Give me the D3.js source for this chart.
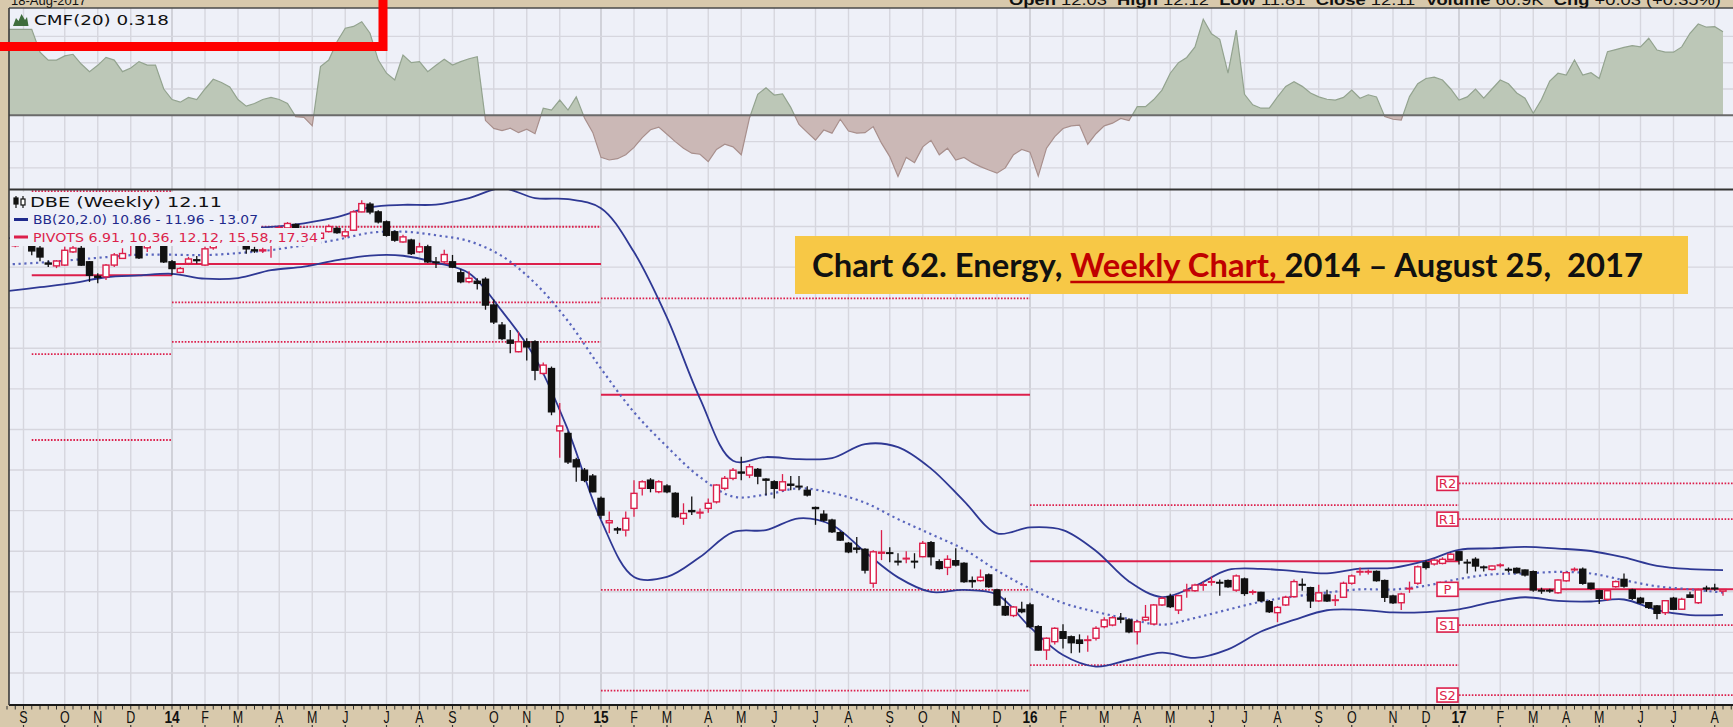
<!DOCTYPE html>
<html>
<head>
<meta charset="utf-8">
<script src="https://cdn.jsdelivr.net/npm/d3@7/dist/d3.min.js"></script>
<style>
  html, body { margin: 0; padding: 0; background: #d8c9ac; overflow: hidden; }
  svg { display: block; }
</style>
</head>
<body>
<svg id="chart" width="1733" height="727"></svg>
<script>
// ---------- DBE weekly bars (each week dated by its Monday) ----------
const firstBarDate = "2013-08-26";
const opens = [
  29.05, 29.3, 29.3, 28.93, 28.2, 28.06, 28.1, 28.75, 28.92, 28.26,
  27.55, 27.52, 28.1, 28.43, 29.1, 29.2, 28.95, 29.3, 29.1, 28.26,
  27.74, 28.18, 28.36, 28.1, 28.95, 29.45, 29.65, 29.5, 29.6, 28.85,
  28.8, 29.3, 29.9, 29.93, 30.1, 29.9, 29.6, 29.42, 29.75, 29.9,
  29.54, 29.82, 30.72, 31.1, 30.72, 30.23, 29.74, 29.24, 29.33, 28.75,
  29.0, 28.25, 28.26, 28.26, 27.72, 27.28, 27.3, 27.4, 26.13, 25.14,
  24.4, 23.83, 24.32, 24.32, 22.76, 23.0, 19.93, 19.8, 18.5, 17.99,
  17.7, 16.6, 15.4, 15.1, 15.04, 16.11, 17.1, 17.5, 16.93, 17.21,
  16.85, 15.62, 16.0, 15.88, 16.11, 16.43, 17.1, 17.59, 17.9, 17.75,
  18.03, 17.55, 17.42, 17.01, 17.3, 17.2, 17.0, 16.15, 15.82, 15.53,
  14.91, 14.39, 14.15, 14.09, 12.42, 13.9, 13.92, 13.5, 13.62, 13.5,
  13.73, 14.42, 13.48, 13.2, 13.53, 13.4, 12.55, 12.55, 12.83, 12.09,
  11.27, 10.83, 11.13, 11.35, 10.28, 9.13, 9.54, 10.03, 9.78, 9.62,
  9.6, 9.71, 10.28, 10.36, 10.7, 10.61, 10.03, 10.61, 10.41, 11.35,
  11.76, 11.1, 12.05, 12.05, 12.33, 12.48, 12.46, 12.55, 12.08, 12.63,
  11.98, 11.97, 11.51, 10.97, 11.35, 11.76, 12.36, 12.2, 11.55, 11.84,
  11.57, 11.73, 12.42, 12.98, 12.98, 13.0, 12.55, 11.79, 11.46, 12.15,
  12.42, 13.43, 13.37, 13.4, 13.6, 13.97, 13.45, 13.6, 13.22, 13.1,
  13.3, 13.1, 13.15, 13.07, 12.99, 12.07, 12.07, 11.95, 12.54, 13.1,
  13.11, 12.42, 12.05, 11.63, 12.25, 12.61, 12.09, 11.68, 11.46, 11.3,
  10.97, 11.68, 11.14, 11.84, 11.46, 12.18, 12.18, 12.03
];
const highs = [
  29.45, 29.6, 29.5, 29.2, 28.34, 28.35, 29.0, 29.1, 29.05, 28.3,
  27.7, 28.15, 28.7, 28.93, 29.55, 29.4, 29.4, 29.7, 29.3, 28.35,
  28.0, 28.5, 28.55, 29.0, 29.55, 29.8, 29.85, 29.9, 29.7, 29.0,
  28.95, 29.7, 30.05, 30.22, 30.15, 29.95, 29.7, 29.75, 30.1, 30.0,
  29.9, 30.8, 31.3, 31.2, 30.8, 30.3, 29.8, 29.6, 29.4, 29.2,
  29.1, 28.5, 28.85, 28.6, 27.9, 27.8, 27.45, 27.5, 26.4, 25.3,
  24.9, 24.81, 24.5, 24.4, 23.3, 23.1, 21.3, 19.9, 18.6, 18.1,
  17.8, 16.7, 15.96, 15.2, 15.96, 17.5, 17.5, 17.6, 17.5, 17.3,
  16.9, 16.36, 16.69, 16.1, 16.6, 17.3, 17.7, 18.1, 18.65, 18.3,
  18.1, 17.6, 17.5, 17.8, 17.7, 17.7, 17.2, 16.2, 16.02, 15.6,
  15.0, 14.45, 14.7, 14.15, 14.05, 15.04, 14.2, 13.9, 14.0, 13.9,
  14.5, 14.5, 13.6, 13.8, 14.14, 13.45, 12.75, 13.1, 12.9, 12.15,
  11.7, 11.3, 11.51, 11.46, 10.35, 9.75, 10.25, 10.4, 9.85, 9.9,
  9.85, 10.3, 10.75, 10.8, 10.95, 10.7, 10.6, 11.35, 11.4, 11.75,
  11.9, 11.85, 12.4, 12.4, 12.5, 12.75, 12.6, 12.6, 12.85, 12.7,
  12.1, 12.0, 11.6, 11.3, 11.8, 12.6, 12.65, 12.25, 12.35, 12.1,
  11.85, 12.5, 12.85, 13.2, 13.1, 13.05, 12.6, 11.85, 11.95, 12.5,
  13.3, 13.55, 13.6, 13.7, 13.9, 14.0, 13.6, 13.7, 13.3, 13.3,
  13.4, 13.2, 13.2, 13.1, 13.05, 12.2, 12.15, 12.6, 13.0, 13.2,
  13.2, 12.45, 12.1, 12.1, 12.55, 12.9, 12.15, 11.75, 11.5, 11.35,
  11.6, 11.75, 11.7, 12.0, 12.15, 12.3, 12.4, 12.12
];
const lows = [
  28.98, 29.1, 28.59, 28.29, 28.0, 27.95, 28.05, 28.7, 28.05, 27.27,
  27.2, 27.36, 28.0, 28.4, 28.56, 28.4, 28.75, 29.1, 28.2, 27.6,
  27.7, 28.1, 28.18, 28.05, 28.85, 29.3, 29.25, 29.3, 28.66, 28.7,
  28.7, 28.46, 29.8, 29.85, 29.9, 29.45, 29.35, 29.35, 29.7, 29.65,
  29.45, 29.8, 30.7, 30.6, 30.15, 29.5, 29.25, 29.2, 28.6, 28.7,
  28.2, 27.95, 28.2, 27.95, 27.2, 27.2, 26.9, 25.9, 25.2, 24.4,
  23.75, 23.8, 23.4, 22.43, 22.7, 20.7, 18.6, 18.3, 17.42, 17.4,
  16.9, 15.6, 14.88, 14.85, 14.72, 15.7, 16.75, 16.9, 16.85, 16.85,
  15.65, 15.3, 15.78, 15.6, 15.9, 16.35, 17.0, 17.5, 17.5, 17.6,
  17.3, 16.76, 16.6, 16.95, 17.0, 17.0, 16.7, 15.3, 15.45, 14.9,
  14.5, 13.9, 13.9, 12.9, 12.2, 13.56, 13.45, 13.3, 13.4, 13.15,
  13.7, 13.3, 13.1, 12.82, 13.25, 12.45, 12.2, 12.5, 12.2, 11.3,
  10.8, 10.75, 10.94, 10.2, 9.1, 8.64, 9.4, 9.2, 8.97, 9.0,
  9.05, 9.6, 10.2, 10.3, 10.45, 9.95, 9.4, 10.55, 10.35, 11.3,
  11.2, 10.9, 11.7, 12.0, 12.05, 12.3, 11.8, 12.2, 12.0, 11.8,
  11.85, 11.5, 10.95, 10.5, 11.3, 11.7, 12.05, 11.2, 11.5, 11.5,
  11.3, 11.7, 12.35, 12.8, 12.85, 12.5, 11.5, 11.4, 11.1, 11.95,
  12.35, 13.1, 13.3, 13.35, 13.55, 13.35, 12.9, 13.0, 13.0, 13.05,
  13.2, 12.95, 12.9, 12.75, 12.0, 11.9, 11.95, 11.9, 12.5, 13.0,
  12.35, 12.1, 11.4, 11.55, 12.2, 12.2, 11.6, 11.4, 11.15, 10.65,
  10.85, 11.1, 11.1, 11.7, 11.4, 12.0, 12.05, 11.81
];
const closes = [
  29.3, 29.45, 28.8, 28.5, 28.15, 28.3, 28.83, 28.94, 28.1, 27.6,
  27.5, 28.1, 28.6, 28.67, 29.4, 28.46, 29.3, 29.5, 28.26, 27.93,
  27.93, 28.4, 28.32, 28.9, 29.45, 29.65, 29.5, 29.7, 28.9, 28.8,
  28.85, 29.6, 29.95, 30.15, 29.93, 29.6, 29.5, 29.67, 30.0, 29.7,
  29.74, 30.72, 31.13, 30.72, 30.23, 29.57, 29.33, 29.49, 28.67, 29.0,
  28.26, 28.22, 28.62, 28.0, 27.28, 27.45, 27.2, 26.13, 25.3, 24.48,
  24.25, 24.32, 24.07, 22.92, 23.17, 20.87, 20.17, 18.4, 18.16, 17.5,
  16.93, 15.78, 15.5, 15.05, 15.62, 16.85, 17.42, 17.1, 17.42, 16.93,
  15.7, 15.86, 15.95, 15.92, 16.36, 17.26, 17.59, 17.99, 17.85, 18.16,
  17.7, 17.5, 17.1, 17.42, 17.25, 17.18, 16.77, 16.1, 15.53, 14.96,
  14.55, 13.97, 14.1, 13.07, 13.97, 13.95, 13.9, 13.48, 13.65, 13.48,
  14.39, 13.73, 13.15, 13.6, 13.32, 12.5, 12.5, 12.72, 12.25, 11.35,
  10.86, 11.25, 11.02, 10.28, 9.13, 9.71, 10.2, 9.71, 9.49, 9.46,
  9.63, 10.2, 10.61, 10.72, 10.65, 10.03, 10.52, 10.74, 11.35, 11.68,
  11.27, 11.81, 12.08, 12.33, 12.35, 12.5, 12.44, 12.25, 12.78, 11.92,
  12.0, 11.56, 11.02, 11.23, 11.73, 12.5, 12.33, 11.55, 11.95, 11.55,
  11.6, 12.42, 12.78, 13.0, 13.0, 12.55, 11.73, 11.46, 11.89, 12.17,
  13.23, 13.2, 13.56, 13.6, 13.85, 13.56, 13.43, 13.27, 13.2, 13.27,
  13.32, 13.08, 12.94, 12.83, 12.09, 12.05, 12.05, 12.58, 12.94, 13.11,
  12.42, 12.17, 11.68, 12.05, 12.5, 12.28, 11.68, 11.46, 11.23, 10.94,
  11.56, 11.14, 11.63, 11.73, 12.09, 12.16, 12.15, 12.11
];

// ---------- Chaikin Money Flow (20), one value per week ----------
const cmfFirstDate = "2013-08-19";
const cmfValues = [
  0.327, 0.327, 0.327, 0.327, 0.24, 0.21, 0.21, 0.226, 0.232, 0.195,
  0.166, 0.19, 0.22, 0.21, 0.166, 0.18, 0.204, 0.191, 0.191, 0.10,
  0.06, 0.05, 0.068, 0.06, 0.10, 0.137, 0.125, 0.108, 0.06, 0.035,
  0.045, 0.06, 0.068, 0.06, 0.045, -0.005, -0.008, -0.04, 0.185, 0.21,
  0.28, 0.331, 0.338, 0.356, 0.312, 0.21, 0.16, 0.134, 0.229, 0.2,
  0.204, 0.166, 0.19, 0.213, 0.191, 0.204, 0.215, 0.223, -0.02, -0.05,
  -0.058, -0.049, -0.066, -0.053, -0.07, 0.027, 0.02, 0.058, 0.02, 0.07,
  -0.01, -0.065, -0.16, -0.17, -0.165, -0.15, -0.122, -0.085, -0.055, -0.045,
  -0.072, -0.1, -0.125, -0.144, -0.148, -0.176, -0.13, -0.11, -0.12, -0.15,
  -0.01, 0.08, 0.105, 0.077, 0.081, 0.03, -0.035, -0.065, -0.094, -0.056,
  -0.068, -0.015, -0.06, -0.068, -0.066, -0.043, -0.106, -0.157, -0.233, -0.16,
  -0.18, -0.12, -0.095, -0.15, -0.125, -0.17, -0.16, -0.18, -0.195, -0.208,
  -0.22, -0.2, -0.15, -0.13, -0.14, -0.231, -0.125, -0.081, -0.05, -0.04,
  -0.037, -0.11, -0.07, -0.04, -0.03, -0.012, -0.02, 0.033, 0.033, 0.06,
  0.096, 0.16, 0.2, 0.22, 0.26, 0.365, 0.31, 0.289, 0.16, 0.324,
  0.08, 0.04, 0.027, 0.027, 0.07, 0.11, 0.128, 0.11, 0.085, 0.07,
  0.061, 0.058, 0.068, 0.096, 0.065, 0.078, 0.07, -0.005, -0.015, -0.018,
  0.071, 0.12, 0.14, 0.145, 0.134, 0.1, 0.058, 0.07, 0.1, 0.065,
  0.1, 0.134, 0.12, 0.085, 0.065, 0.008, 0.06, 0.13, 0.16, 0.153,
  0.21, 0.153, 0.162, 0.14, 0.242, 0.25, 0.258, 0.265, 0.26, 0.293,
  0.248, 0.24, 0.24, 0.26, 0.312, 0.347, 0.335, 0.337, 0.318
];

// ---------- Bollinger Bands (20, 2.0), one reading every 4 weeks ----------
const bandFirstDate = "2013-08-19";
const bandStepWeeks = 4;
const bbUpper = [
  29.43, 29.43, 29.48, 29.57, 29.65, 29.72, 29.82, 29.92, 29.98, 30.16,
  30.46, 30.95, 31.07, 31.08, 31.40, 31.89, 31.40, 31.35, 30.90, 28.74,
  25.51, 21.52, 18.46, 18.64, 18.54, 18.59, 19.28, 19.13, 18.07, 16.47,
  14.88, 15.17, 15.04, 14.01, 12.51, 11.74, 12.28, 13.08, 13.13, 13.02,
  12.91, 13.14, 13.18, 13.53, 14.07, 14.14, 14.21, 14.13, 14.01, 13.69,
  13.28, 13.12, 13.07
];
const bbMiddle = [
  28.13, 28.22, 28.35, 28.49, 28.61, 28.61, 28.59, 28.69, 28.84, 29.08,
  29.35, 29.69, 29.75, 29.57, 29.28, 28.54, 27.21, 25.34, 23.00, 20.85,
  19.15, 17.65, 16.69, 16.79, 17.10, 16.87, 16.39, 15.58, 14.84, 14.09,
  13.05, 12.16, 11.45, 11.01, 10.66, 10.38, 10.71, 11.12, 11.51, 11.77,
  11.96, 12.12, 12.11, 12.30, 12.63, 12.86, 12.90, 12.98, 12.90, 12.57,
  12.27, 12.12, 11.96
];
const bbLower = [
  26.82, 27.01, 27.21, 27.50, 27.59, 27.67, 27.43, 27.46, 27.85, 28.02,
  28.34, 28.57, 28.56, 28.22, 27.70, 25.83, 23.54, 19.97, 15.53, 12.73,
  12.73, 13.71, 14.94, 15.04, 15.62, 15.29, 13.96, 12.71, 11.99, 12.09,
  11.86, 10.26, 8.88, 8.31, 8.65, 9.00, 8.74, 9.16, 10.04, 10.61,
  11.09, 11.11, 10.98, 11.00, 11.13, 11.49, 11.73, 11.55, 11.52, 11.62,
  11.10, 10.85, 10.86
];

// ---------- Annual pivot points (null = level not plotted) ----------
const pivotStartDates = ["2013-09-09", "2014-01-06", "2015-01-05", "2016-01-04", "2017-01-02"];
const pivotR2 = [null, null, null, null, 17.34];
const pivotR1 = [31.74, 29.99, 26.46, 16.27, 15.58];
const pivotP  = [27.60, 28.15, 21.71, 13.51, 12.12];
const pivotS1 = [23.71, 26.26, 12.09, 8.39, 10.36];
const pivotS2 = [19.48, 24.32, 7.13, null, 6.91];
const pivotNames = ["R2", "R1", "P", "S1", "S2"];

// ---------- Axis / grid labels ----------
const monthLetters = ["J", "F", "M", "A", "M", "J", "J", "A", "S", "O", "N", "D"];
const priceGridValues = [8, 10, 12, 14, 16, 18, 20, 22, 24, 26, 28, 30];
const cmfGridValues = [-0.2, -0.1, 0.1, 0.2, 0.3];

// ---------- Text ----------
const headerDate = "18-Aug-2017";
const headerQuote = [["Open", "12.03"], ["High", "12.12"], ["Low", "11.81"], ["Close", "12.11"], ["Volume", "60.9K"], ["Chg", "+0.03 (+0.35%)"]];
const legendCMF = "CMF(20) 0.318";
const legendSymbol = "DBE (Weekly) 12.11";
const legendBB = "BB(20,2.0) 10.86 - 11.96 - 13.07";
const legendPivots = "PIVOTS 6.91, 10.36, 12.12, 15.58, 17.34";
const titleParts = ["Chart 62. Energy, ", "Weekly Chart, ", "2014 \u2013 August 25,  2017"];

// ================= drawing =================
const W = 1733, H = 727;
const panelLeft = 9, panelRight = W;
const cmfTop = 8, cmfBottom = 189;
const priceTop = 190, priceBottom = 705;

const BG = "#eef0f8", TAN = "#d8c9ac";
const RED = "#dc1f4b", NAVY = "#2e3894", BLACK = "#111";

const svg = d3.select("#chart");
const parse = d3.utcParse("%Y-%m-%d");
const weekFrom = (s, n) => d3.utcMonday.offset(parse(s), n);

const x = d3.scaleUtc().domain([parse("2014-01-06"), parse("2017-01-02")]).range([172, 1459]);
const y = d3.scaleLinear().domain([6.42, 31.8]).range([priceBottom, priceTop]);
const cy = d3.scaleLinear().domain([-0.2, 0.3]).range([167.9, 36.4]);

const bars = opens.map((o, i) => ({ date: weekFrom(firstBarDate, i), o, h: highs[i], l: lows[i], c: closes[i] }));
const cmf = cmfValues.map((v, i) => ({ date: weekFrom(cmfFirstDate, i), v }));
const band = arr => arr.map((v, i) => ({ date: weekFrom(bandFirstDate, i * bandStepWeeks), v }));

const defs = svg.append("defs");
defs.append("clipPath").attr("id", "clipPrice").append("rect")
  .attr("x", panelLeft).attr("y", priceTop).attr("width", panelRight - panelLeft).attr("height", priceBottom - priceTop);
defs.append("clipPath").attr("id", "clipCmf").append("rect")
  .attr("x", panelLeft).attr("y", cmfTop).attr("width", panelRight - panelLeft).attr("height", cmfBottom - cmfTop);
defs.append("clipPath").attr("id", "clipPos").append("rect")
  .attr("x", panelLeft).attr("y", cmfTop).attr("width", panelRight - panelLeft).attr("height", cy(0) - cmfTop);
defs.append("clipPath").attr("id", "clipNeg").append("rect")
  .attr("x", panelLeft).attr("y", cy(0)).attr("width", panelRight - panelLeft).attr("height", cmfBottom - cy(0));

// background
svg.append("rect").attr("width", W).attr("height", H).attr("fill", TAN);
svg.append("rect").attr("x", panelLeft).attr("y", cmfTop).attr("width", panelRight - panelLeft).attr("height", cmfBottom - cmfTop).attr("fill", BG);
svg.append("rect").attr("x", panelLeft).attr("y", priceTop).attr("width", panelRight - panelLeft).attr("height", priceBottom - priceTop).attr("fill", BG);

// month boundaries (first weekly bar of each month)
const monthBars = bars.filter((b, i) => i > 0 && b.date.getUTCMonth() !== bars[i - 1].date.getUTCMonth());

// vertical grid in both panels
[[cmfTop, cmfBottom], [priceTop, priceBottom]].forEach(([t, b]) => {
  svg.append("g").selectAll("line").data(monthBars).join("line")
    .attr("x1", d => x(d.date)).attr("x2", d => x(d.date))
    .attr("y1", t).attr("y2", b)
    .attr("stroke", d => d.date.getUTCMonth() === 0 ? "#c4c4cc" : "#d6d6de")
    .attr("stroke-width", 1.4);
});
// horizontal grid
svg.append("g").selectAll("line").data(priceGridValues).join("line")
  .attr("x1", panelLeft).attr("x2", panelRight).attr("y1", d => y(d)).attr("y2", d => y(d))
  .attr("stroke", "#d6d6de").attr("stroke-width", 1.4);
svg.append("g").selectAll("line").data(cmfGridValues).join("line")
  .attr("x1", panelLeft).attr("x2", panelRight).attr("y1", d => cy(d)).attr("y2", d => cy(d))
  .attr("stroke", "#d6d6de").attr("stroke-width", 1.4);

// ---------- CMF panel ----------
const gc = svg.append("g").attr("clip-path", "url(#clipCmf)");
const cmfArea = d3.area().x(d => x(d.date)).y0(cy(0)).y1(d => cy(d.v));
const cmfLine = d3.line().x(d => x(d.date)).y(d => cy(d.v));
gc.append("path").datum(cmf).attr("d", cmfArea).attr("fill", "#bcc7b7").attr("clip-path", "url(#clipPos)");
gc.append("path").datum(cmf).attr("d", cmfArea).attr("fill", "#cbb8b6").attr("clip-path", "url(#clipNeg)");
gc.append("path").datum(cmf).attr("d", cmfLine).attr("fill", "none").attr("stroke", "#93a38f").attr("stroke-width", 1.2).attr("clip-path", "url(#clipPos)");
gc.append("path").datum(cmf).attr("d", cmfLine).attr("fill", "none").attr("stroke", "#a88f8c").attr("stroke-width", 1.2).attr("clip-path", "url(#clipNeg)");
gc.append("line").attr("x1", panelLeft).attr("x2", panelRight).attr("y1", cy(0)).attr("y2", cy(0))
  .attr("stroke", "#6a6a6a").attr("stroke-width", 2);

// CMF legend
svg.append("path").attr("d", "M13,26 L16,18 L18.5,21 L21.5,14 L25,20 L27,17 L28.5,26 Z").attr("fill", "#3f6d3c");
svg.append("text").attr("x", 34).attr("y", 25).text(legendCMF)
  .attr("font-family", "DejaVu Sans, sans-serif").attr("font-size", 14).attr("fill", "#111")
  .attr("textLength", 135).attr("lengthAdjust", "spacingAndGlyphs");

// ---------- price panel ----------
const gp = svg.append("g").attr("clip-path", "url(#clipPrice)");

// pivot lines
const pivotRows = [pivotR2, pivotR1, pivotP, pivotS1, pivotS2];
pivotStartDates.forEach((s, k) => {
  const xs = x(parse(s));
  const xe = k < pivotStartDates.length - 1 ? x(parse(pivotStartDates[k + 1])) : panelRight + 20;
  pivotRows.forEach((row, r) => {
    if (row[k] == null) return;
    const isP = pivotNames[r] === "P";
    gp.append("line").attr("x1", xs).attr("x2", xe).attr("y1", y(row[k])).attr("y2", y(row[k]))
      .attr("stroke", RED).attr("stroke-width", isP ? 2 : 1.8)
      .attr("stroke-dasharray", isP ? null : "1.6,1.6");
  });
});

// Bollinger Bands
const bandLine = d3.line().x(d => x(d.date)).y(d => y(d.v)).curve(d3.curveCatmullRom.alpha(0.5));
gp.append("path").datum(band(bbUpper)).attr("d", bandLine).attr("fill", "none").attr("stroke", NAVY).attr("stroke-width", 1.8);
gp.append("path").datum(band(bbLower)).attr("d", bandLine).attr("fill", "none").attr("stroke", NAVY).attr("stroke-width", 1.8);
gp.append("path").datum(band(bbMiddle)).attr("d", bandLine).attr("fill", "none").attr("stroke", "#5a66bd")
  .attr("stroke-width", 2.2).attr("stroke-dasharray", "2.2,3.6");

// candlesticks
const bodyW = 6;
const up = d => d.c >= d.o;
const cg = gp.append("g");
cg.selectAll("line").data(bars).join("line")
  .attr("x1", d => x(d.date)).attr("x2", d => x(d.date))
  .attr("y1", d => y(d.h)).attr("y2", d => y(d.l))
  .attr("stroke", d => up(d) ? RED : BLACK).attr("stroke-width", 1.3);
cg.selectAll("rect").data(bars).join("rect")
  .attr("x", d => x(d.date) - bodyW / 2)
  .attr("y", d => y(Math.max(d.o, d.c)))
  .attr("width", bodyW)
  .attr("height", d => Math.max(0.6, Math.abs(y(d.o) - y(d.c))))
  .attr("fill", d => up(d) ? "#ffffff" : BLACK)
  .attr("stroke", d => up(d) ? RED : BLACK).attr("stroke-width", 1.4);

// current-year pivot labels
const lastK = pivotStartDates.length - 1;
const labelRight = x(parse(pivotStartDates[lastK]));
pivotRows.forEach((row, r) => {
  const yy = y(row[lastK]);
  const g = svg.append("g");
  g.append("rect").attr("x", labelRight - 22).attr("y", yy - 7).attr("width", 21).attr("height", 14)
    .attr("fill", "#ffffff").attr("stroke", RED).attr("stroke-width", 1.6);
  g.append("text").attr("x", labelRight - 11.5).attr("y", yy + 5).attr("text-anchor", "middle")
    .attr("font-family", "DejaVu Sans, sans-serif").attr("font-size", 13).attr("fill", RED).text(pivotNames[r]);
});

// price legend rows (opaque background)
const legendRows = [
  { text: legendSymbol, x: 30, base: 207, w: 192, color: "#111", right: 226, top: 192, bottom: 211, size: 14 },
  { text: legendBB, x: 33, base: 224, w: 225, color: "#1f2a8c", right: 261, top: 211, bottom: 228, size: 13 },
  { text: legendPivots, x: 33, base: 242, w: 285, color: RED, right: 321, top: 228, bottom: 246, size: 13 }
];
legendRows.forEach(r => {
  svg.append("rect").attr("x", panelLeft + 1).attr("y", r.top).attr("width", r.right - panelLeft - 1).attr("height", r.bottom - r.top).attr("fill", BG);
});
legendRows.forEach(r => {
  svg.append("text").attr("x", r.x).attr("y", r.base).text(r.text)
    .attr("font-family", "DejaVu Sans, sans-serif").attr("font-size", r.size).attr("fill", r.color)
    .attr("textLength", r.w).attr("lengthAdjust", "spacingAndGlyphs");
});
// legend icons
const icon = svg.append("g").attr("stroke", "#111").attr("stroke-width", 1.2);
icon.append("line").attr("x1", 16).attr("x2", 16).attr("y1", 196).attr("y2", 208);
icon.append("rect").attr("x", 14).attr("y", 198).attr("width", 4).attr("height", 6).attr("fill", "#111");
icon.append("line").attr("x1", 23).attr("x2", 23).attr("y1", 196).attr("y2", 208);
icon.append("rect").attr("x", 21).attr("y", 199).attr("width", 4).attr("height", 6).attr("fill", "#fff");
svg.append("line").attr("x1", 14).attr("x2", 28).attr("y1", 219.5).attr("y2", 219.5).attr("stroke", "#1f2a8c").attr("stroke-width", 3);
svg.append("line").attr("x1", 14).attr("x2", 28).attr("y1", 237).attr("y2", 237).attr("stroke", RED).attr("stroke-width", 3);

// panel borders
svg.append("line").attr("x1", panelLeft).attr("x2", panelRight).attr("y1", cmfTop).attr("y2", cmfTop).attr("stroke", "#4a4a4a").attr("stroke-width", 1.6);
svg.append("line").attr("x1", panelLeft).attr("x2", panelRight).attr("y1", 189.5).attr("y2", 189.5).attr("stroke", "#333").attr("stroke-width", 2);
svg.append("line").attr("x1", panelLeft).attr("x2", panelRight).attr("y1", priceBottom).attr("y2", priceBottom).attr("stroke", "#1a1a1a").attr("stroke-width", 2.2);
svg.append("line").attr("x1", panelLeft).attr("x2", panelLeft).attr("y1", cmfTop).attr("y2", priceBottom).attr("stroke", "#3a3a3a").attr("stroke-width", 1.6);

// ---------- date axis ----------
const allWeeks = d3.utcMonday.range(weekFrom(firstBarDate, -1), weekFrom(firstBarDate, 212));
svg.append("g").selectAll("line").data(allWeeks).join("line")
  .attr("x1", d => x(d)).attr("x2", d => x(d)).attr("y1", priceBottom + 1).attr("y2", priceBottom + 4.5)
  .attr("stroke", "#333").attr("stroke-width", 1);
svg.append("g").selectAll("line").data(monthBars).join("line")
  .attr("x1", d => x(d.date)).attr("x2", d => x(d.date)).attr("y1", 725).attr("y2", 727)
  .attr("stroke", "#333").attr("stroke-width", 1.2);
svg.append("g").selectAll("text").data(monthBars).join("text")
  .attr("transform", d => `translate(${x(d.date)},723.3) scale(${d.date.getUTCMonth() === 0 ? 0.85 : 0.78},1)`)
  .attr("text-anchor", "middle")
  .attr("font-family", "Liberation Sans, Arial, sans-serif")
  .attr("font-size", 16)
  .attr("font-weight", d => d.date.getUTCMonth() === 0 ? 700 : 400)
  .attr("fill", "#111")
  .text(d => d.date.getUTCMonth() === 0 ? String(d.date.getUTCFullYear() % 100).padStart(2, "0") : monthLetters[d.date.getUTCMonth()]);

// ---------- header strip (runs off the top edge) ----------
svg.append("text").attr("x", 11).attr("y", 4.5).text(headerDate)
  .attr("font-family", "Liberation Sans, Arial, sans-serif").attr("font-size", 13).attr("fill", "#111");
const hq = svg.append("text").attr("x", 1009).attr("y", 4.5)
  .attr("font-family", "Liberation Sans, Arial, sans-serif").attr("font-size", 14).attr("fill", "#111")
  .style("white-space", "pre");
headerQuote.forEach(([k, v], i) => {
  hq.append("tspan").attr("font-weight", 700).text((i ? "  " : "") + k + " ");
  hq.append("tspan").text(v);
});
hq.attr("textLength", 712).attr("lengthAdjust", "spacingAndGlyphs");

// ---------- title banner ----------
svg.append("rect").attr("x", 795).attr("y", 236).attr("width", 893).attr("height", 58).attr("fill", "#f7c846");
const title = svg.append("text").attr("x", 0).attr("y", 0)
  .attr("font-family", "Lato, Open Sans, sans-serif").attr("font-weight", 700).attr("font-size", 32)
  .style("white-space", "pre");
title.append("tspan").attr("fill", "#111").text(titleParts[0]);
title.append("tspan").attr("fill", "#c00000").text(titleParts[1]);
title.append("tspan").attr("fill", "#111").text(titleParts[2]);
const natural = title.node().getComputedTextLength();
const targetW = 831;
const sx = targetW / natural;
title.attr("transform", `translate(812,277) scale(${sx},1)`);
// underline for the highlighted part
const n0 = titleParts[0].length, n1 = titleParts[1].length;
const tn = title.node();
const u0 = tn.getStartPositionOfChar(n0).x * sx + 812;
const u1 = tn.getEndPositionOfChar(n0 + n1 - 1).x * sx + 812;
svg.append("line").attr("x1", u0).attr("x2", u1).attr("y1", 282).attr("y2", 282)
  .attr("stroke", "#c00000").attr("stroke-width", 2.6);

// ---------- red call-out frame ----------
svg.append("path").attr("d", "M-5,46.5 H383 V-5").attr("fill", "none")
  .attr("stroke", "#ff0000").attr("stroke-width", 9).attr("stroke-linejoin", "miter");
</script>
</body>
</html>
